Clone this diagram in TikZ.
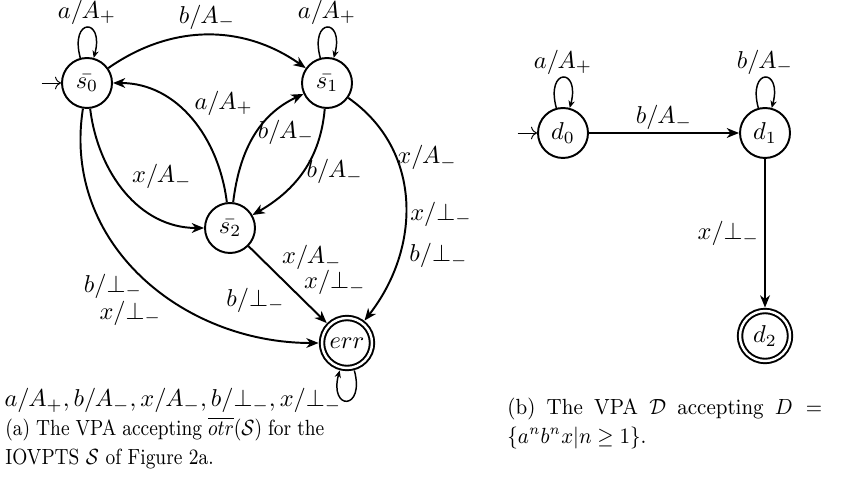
\documentclass[tikz,border=0pt]{standalone}
\usepackage{amsmath,amssymb}
\usetikzlibrary{automata,arrows.meta,positioning}

\begin{document}
\begin{tikzpicture}[
    x=0.41pt, y=0.41pt,
    every state/.style={draw, thick, minimum size=20.5pt, inner sep=0pt},
    final/.style={double, double distance=1pt, outer sep=1.4pt},
    initial text={}, initial distance=8pt,
    every initial by arrow/.style={thin, ->},
    trans/.style={thick, -{Stealth[length=5pt, width=4pt, inset=1.5pt]}},
    every loop/.style={semithick, -{Stealth[length=3pt, width=2.6pt, inset=1pt]}},
    looplabel/.style={above, inner sep=1pt},
    caption/.style={anchor=north west, inner sep=0pt, align=justify, transform shape,
        font=\small\setlength{\baselineskip}{11.9pt}}
]
\useasboundingbox (0,0) rectangle (842,490);

% (a) the VPA for the complement
\node[state, initial] (s0) at (87,407) {$\bar{s_0}$};
\node[state] (s1) at (327,407) {$\bar{s_1}$};
\node[state] (s2) at (230,262) {$\bar{s_2}$};
\node[state, final] (err) at (347,147) {$err$};

\path (s0) edge[loop above] node[looplabel] {$a/A_+$} ()
      (s1) edge[loop above] node[looplabel] {$a/A_+$} ()
      (err) edge[every loop, out=285, in=255, looseness=7.3]
        node[left=2pt, inner sep=0pt] {$a/A_+, b/A_-, x/A_-, b/\bot_-, x/\bot_-$} (err);

\path[trans]
    (s0) edge[bend left=35] node[above, inner sep=2pt] {$b/A_-$} (s1)
    (s0) edge[out=-83, in=180] node[pos=.51, above right, inner sep=1.7pt] {$x/A_-$} (s2)
    (s2) edge[out=97, in=0] node[pos=.5, anchor=south west, inner sep=1pt] {$a/A_+$} (s0)
    (s2) edge[out=83, in=205] node[pos=.55, anchor=west, inner sep=0pt] {$b/A_-$} (s1)
    (s1) edge[out=-95, in=30] node[pos=.5, anchor=west, inner sep=1pt] {$b/A_-$} (s2)
    (s0) edge[out=-99, in=180, looseness=1.05]
        node[pos=.54, anchor=east, inner sep=4pt] {$b/\bot_-$}
        node[pos=.58, anchor=north east, inner sep=0pt, xshift=-1pt, yshift=-2pt] {$x/\bot_-$} (err)
    (s2) edge node[pos=.37, above right, inner sep=1.5pt] {$x/A_-$}
        node[pos=.67, above right, inner sep=.9pt] {$x/\bot_-$}
        node[pos=.5, below left, inner sep=.9pt] {$b/\bot_-$} (err)
    (s1) edge[out=-35, in=52, looseness=1.05]
        node[pos=.31, anchor=west, inner sep=0pt] {$x/A_-$}
        node[pos=.55, anchor=west, inner sep=1.5pt] {$x/\bot_-$}
        node[pos=.72, anchor=west, inner sep=4pt] {$b/\bot_-$} (err);

\node[caption, xscale=0.86, text width=152pt] (capa) at (5,73)
    {(a) The VPA accepting $\overline{otr}(\mathcal{S})$ for the\linebreak IOVPTS $\mathcal{S}$ of Figure 2a.};

% (b) the VPA for D
\node[state, initial] (d0) at (563,357) {$d_0$};
\node[state] (d1) at (765,357) {$d_1$};
\node[state, final] (d2) at (765,154) {$d_2$};

\path (d0) edge[loop above] node[looplabel] {$a/A_+$} ()
      (d1) edge[loop above] node[looplabel] {$b/A_-$} ();

\path[trans]
    (d0) edge node[above, inner sep=1pt] {$b/A_-$} (d1)
    (d1) edge node[left, inner sep=2pt] {$x/\bot_-$} (d2);

\node[caption, xscale=0.93, text width=138.7pt] (capb) at (507,92)
    {(b) The VPA $\mathcal{D}$ accepting $D =$\linebreak $\{a^nb^nx|n \geq 1\}$.};
\end{tikzpicture}
\end{document}
